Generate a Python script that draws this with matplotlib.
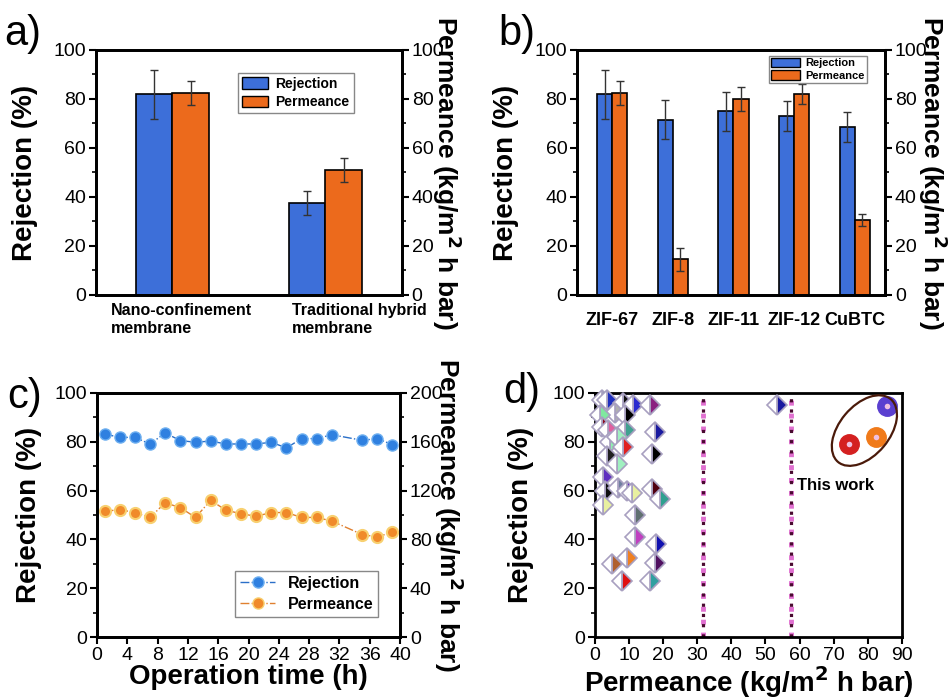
import matplotlib
matplotlib.use('Agg')
import matplotlib.pyplot as plt
import matplotlib.transforms as mtransforms
import numpy as np
from matplotlib.patches import Ellipse, Patch
from matplotlib.lines import Line2D
from matplotlib.ticker import MultipleLocator

plt.rcParams['font.family'] = ['Liberation Sans', 'DejaVu Sans']

# ---- data ----
# a) membrane comparison
a_groups = ['Nano-confinement\nmembrane', 'Traditional hybrid\nmembrane']
a_rej = [82, 37.5]
a_rej_err = [10, 5]
a_perm = [82.5, 51]
a_perm_err = [5, 5]

# b) different MOFs
b_groups = ['ZIF-67', 'ZIF-8', 'ZIF-11', 'ZIF-12', 'CuBTC']
b_rej = [82, 71.5, 75, 73, 68.5]
b_rej_err = [10, 8, 8, 6, 6]
b_perm = [82.5, 14.5, 80, 82, 30.5]
b_perm_err = [5, 4.7, 4.8, 4, 2.5]

# c) stability test
c_time = [1, 3, 5, 7, 9, 11, 13, 15, 17, 19, 21, 23, 25, 27, 29, 31, 35, 37, 39]
c_rej = [83.2, 81.8, 81.8, 79.1, 83.6, 80.5, 79.8, 80.3, 79.1, 79.1, 79.1, 79.8,
         77.5, 81.3, 81.3, 82.9, 80.6, 81.3, 78.8]
c_perm = [103, 104.4, 102, 98, 110, 106, 98, 112, 104, 101, 99, 102,
          102, 98, 98, 95, 84, 82, 86]

# d) literature comparison
d_perm = [2, 3.4, 8.3, 11.3, 16.1, 53.3, 6, 8.8, 1.5, 2, 3.9, 8.8, 17.6, 4.4,
          6.4, 8.3, 16.6, 3.4, 6.4, 2.4, 2.9, 6.8, 9.3, 11, 16.6, 19, 2.4,
          11.7, 11.7, 18, 4.9, 9.3, 17.6, 7.8, 16]
d_rej = [97, 97, 96, 95, 95, 95, 92, 91, 91, 86, 85, 85, 84, 80,
         82, 78, 75, 74, 71, 65.5, 60, 61, 60, 59, 60.5, 56.5, 54,
         50, 41, 38, 30, 32.5, 30.5, 23, 23]
d_colors = ['#3a9a8a', '#2030c0', '#101010', '#2a2ad0', '#8a2080', '#1a1aa0',
            '#b0b0b0', '#000000', '#80e8a0', '#8a0a20', '#e060a0', '#40a090',
            '#1a1aa0', '#90f0b0', '#a0f0c0', '#e02020', '#000000', '#202020',
            '#a0f0c0', '#6030c0', '#101010', '#7080a0', '#6020c0', '#e8f0a0',
            '#500010', '#30a090', '#e8f0a0', '#607070', '#c040c0', '#1010b0',
            '#b06030', '#f08020', '#501060', '#e01010', '#30a0a0']
this_perm = [74.5, 82.5, 85.5]
this_rej = [79, 82, 94.5]
this_colors = ['#d42020', '#f07a1a', '#5a3fd0']
d_limits = [31.8, 57.4]

BLUE = '#3d6fd9'
ORANGE = '#ec6a1c'

fig = plt.figure(figsize=(9.53, 7), dpi=100)
ax_a = fig.add_axes([0.1007, 0.5786, 0.3211, 0.35])
ax_b = fig.add_axes([0.6055, 0.5786, 0.3232, 0.35])
ax_c = fig.add_axes([0.1018, 0.09, 0.318, 0.3486])
ax_d = fig.add_axes([0.6243, 0.09, 0.3221, 0.3486])


def style(ax):
    for s in ax.spines.values():
        s.set_linewidth(2)
    ax.tick_params(direction='out', length=5, width=1.5, labelsize=14, pad=2)
    ax.tick_params(which='minor', direction='out', length=3, width=1.2)


def twin_axes(ax, ylabel_r, rlim, rstep, lx, rx):
    ax.set_ylim(0, 100)
    ax.yaxis.set_major_locator(MultipleLocator(20))
    ax.yaxis.set_minor_locator(MultipleLocator(10))
    ax.set_ylabel('Rejection (%)', fontsize=20, fontweight='bold')
    ax.yaxis.set_label_coords(lx, 0.5)
    ax2 = ax.twinx()
    ax2.set_ylim(0, rlim)
    ax2.yaxis.set_major_locator(MultipleLocator(rstep))
    ax2.yaxis.set_minor_locator(MultipleLocator(rstep / 2))
    ax2.set_ylabel(ylabel_r, fontsize=19, fontweight='bold', rotation=270,
                   va='center')
    ax2.yaxis.set_label_coords(rx, 0.5)
    style(ax)
    style(ax2)
    return ax2


perm_label = 'Permeance (kg/m$^\\mathbf{2}$ h bar)'
err_kw = dict(ecolor='#333333', elinewidth=1, capsize=3, capthick=1)

# ---- a ----
xa = np.array([0.5, 1.5])
w = 0.24
ax_a2 = twin_axes(ax_a, perm_label, 100, 20, -0.19, 1.147)
ax_a.bar(xa - w / 2, a_rej, w, yerr=a_rej_err, color=BLUE, edgecolor='black',
         linewidth=1.2, error_kw=err_kw)
ax_a2.bar(xa + w / 2, a_perm, w, yerr=a_perm_err, color=ORANGE, edgecolor='black',
          linewidth=1.2, error_kw=err_kw)
ax_a.set_xlim(0, 2)
ax_a.set_xticks([0.56, 1.72])
ax_a.set_xticklabels(a_groups, fontsize=11.5, fontweight='bold', ha='center',
                     multialignment='left')
ax_a.tick_params(axis='x', length=0, pad=6)
handles = [Patch(facecolor=BLUE, edgecolor='black', label='Rejection'),
           Patch(facecolor=ORANGE, edgecolor='black', label='Permeance')]
ax_a2.legend(handles=handles, loc='upper right', bbox_to_anchor=(0.865, 0.935),
             prop={'weight': 'bold', 'size': 10}, fancybox=False,
             edgecolor='#888888', handlelength=1.9, handleheight=0.9,
             borderpad=0.3, labelspacing=0.3, handletextpad=0.5,
             framealpha=1)

# ---- b ----
xb = np.arange(1, 6)
wb = 0.25
ax_b2 = twin_axes(ax_b, perm_label, 100, 20, -0.19, 1.156)
ax_b.bar(xb - wb / 2, b_rej, wb, yerr=b_rej_err, color=BLUE, edgecolor='black',
         linewidth=1.2, error_kw=err_kw)
ax_b2.bar(xb + wb / 2, b_perm, wb, yerr=b_perm_err, color=ORANGE, edgecolor='black',
          linewidth=1.2, error_kw=err_kw)
ax_b.set_xlim(0.42, 5.5)
ax_b.set_xticks(xb)
ax_b.set_xticklabels(b_groups, fontsize=13, fontweight='bold')
ax_b.tick_params(axis='x', length=0, pad=12)
ax_b2.legend(handles=handles, loc='upper right', bbox_to_anchor=(0.96, 1.0),
             prop={'weight': 'bold', 'size': 8}, fancybox=False,
             edgecolor='#888888', handlelength=2.6, handleheight=0.9,
             borderpad=0.2, labelspacing=0.2, handletextpad=0.5,
             framealpha=1)

# ---- c ----
ax_c2 = twin_axes(ax_c, perm_label, 200, 40, -0.18, 1.159)
ax_c.plot(c_time, c_rej, ls='-.', lw=1, color='#2a6fc8', marker='o', ms=8,
          mfc='#2f80e0', mec='#6fb0f0', mew=1)
ax_c2.plot(c_time, c_perm, ls='-.', lw=1, color='#e08030', marker='o', ms=8,
           mfc='#f08a2a', mec='#f8d070', mew=1.5)
ax_c.set_xlim(0, 40)
ax_c.xaxis.set_major_locator(MultipleLocator(4))
ax_c.set_xlabel('Operation time (h)', fontsize=20, fontweight='bold', labelpad=0)
hc = [Line2D([], [], ls='-.', lw=1, color='#2a6fc8', marker='o', ms=8,
             mfc='#2f80e0', mec='#6fb0f0', label='Rejection'),
      Line2D([], [], ls='-.', lw=1, color='#e08030', marker='o', ms=8,
             mfc='#f08a2a', mec='#f8d070', label='Permeance')]
ax_c2.legend(handles=hc, loc='lower right', bbox_to_anchor=(0.955, 0.05),
             prop={'weight': 'bold', 'size': 11.5}, fancybox=False,
             edgecolor='#888888', handlelength=2.2, borderpad=0.3,
             labelspacing=0.4, framealpha=1)

# ---- d ----
style(ax_d)
ax_d.set_xlim(0, 90)
ax_d.set_ylim(0, 100)
ax_d.xaxis.set_major_locator(MultipleLocator(10))
ax_d.yaxis.set_major_locator(MultipleLocator(20))
ax_d.yaxis.set_minor_locator(MultipleLocator(10))
ax_d.set_ylabel('Rejection (%)', fontsize=20, fontweight='bold')
ax_d.yaxis.set_label_coords(-0.2, 0.5)
ax_d.set_xlabel('Permeance (kg/m$^\\mathbf{2}$ h bar)', fontsize=20,
                fontweight='bold', labelpad=0)
for xv in d_limits:
    ax_d.axvline(xv, ymax=1, color='#e070d0', lw=3.5, ls=':', zorder=1)
    ax_d.axvline(xv, ymax=1, color='#4a0a30', lw=2.3, ls=(0, (1, 2.2)), zorder=2)
for xv, yv, cv in zip(d_perm, d_rej, d_colors):
    ax_d.plot(xv, yv, marker='D', ms=10.5, fillstyle='right', mfc=cv,
              mfcalt='white', mec='#a8a0c0', mew=1.2, ls='none', zorder=3,
              clip_on=False)
for xv, yv, cv in zip(this_perm, this_rej, this_colors):
    ax_d.plot(xv, yv, marker='o', ms=14, color=cv, mec=cv, ls='none', zorder=4)
    ax_d.plot(xv, yv, marker='o', ms=4, color='#f0c0e0', mec='none', ls='none',
              zorder=5)
trans = fig.dpi_scale_trans + mtransforms.ScaledTranslation(79, 84.6, ax_d.transData)
ax_d.add_patch(Ellipse((0, 0), 0.82, 0.5, angle=50, transform=trans,
                       facecolor='none', edgecolor='#4a1a0a', lw=1.6, zorder=4))
ax_d.text(59.3, 62, 'This work', fontsize=12, fontweight='bold', va='center')

# panel letters
for lx, ly, t in [(0.004, 0.952, 'a)'), (0.523, 0.952, 'b)'),
                  (0.008, 0.433, 'c)'), (0.528, 0.44, 'd)')]:
    fig.text(lx, ly, t, fontsize=30, va='center')

fig.savefig('out.png', dpi=100)
